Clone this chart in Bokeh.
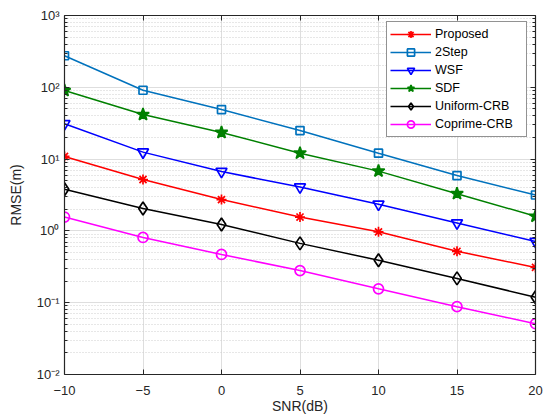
from bokeh.plotting import figure
from bokeh.models import (FixedTicker, CustomJSTickFormatter, LogAxis, LinearAxis,
                          Legend, LegendItem, Range1d)
from bokeh.embed import file_html
from bokeh.resources import INLINE

# ---- data ----
snr = [-10, -5, 0, 5, 10, 15, 20]
proposed = [10.9, 5.2, 2.73, 1.56, 0.97, 0.52, 0.31]
two_step = [275, 91, 49, 25, 12.1, 5.9, 3.16]
wsf = [31, 12.5, 6.7, 4.08, 2.35, 1.29, 0.71]
sdf = [90, 41.8, 23.5, 12.1, 6.8, 3.3, 1.6]
uniform_crb = [3.8, 2.05, 1.23, 0.67, 0.39, 0.218, 0.119]
coprime_crb = [1.56, 0.81, 0.47, 0.28, 0.156, 0.088, 0.051]

x_ticks = [-10, -5, 0, 5, 10, 15, 20]
y_ticks = [1e-2, 1e-1, 1e0, 1e1, 1e2, 1e3]
y_minor = [m * t for t in y_ticks[:-1] for m in range(2, 10)]

FONT = "Liberation Sans"
AX = "#262626"

p = figure(width=545, height=416, y_axis_type="log",
           x_range=Range1d(-10, 20), y_range=Range1d(1e-2, 1e3),
           output_backend="svg", toolbar_location=None,
           min_border_left=64, min_border_right=10, min_border_top=15, min_border_bottom=41,
           background_fill_color="white", border_fill_color="white")
p.outline_line_color = None

xt = FixedTicker(ticks=x_ticks)
yt = FixedTicker(ticks=y_ticks, minor_ticks=y_minor)

sup_code = """
const e = Math.round(Math.log10(tick));
const sup = {'-':'\\u207B','0':'\\u2070','1':'\\u00B9','2':'\\u00B2','3':'\\u00B3','4':'\\u2074','5':'\\u2075'};
return '10' + String(e).split('').map(c => sup[c]).join('');
"""

def style_axis(ax, show_labels):
    ax.axis_line_color = AX
    ax.axis_line_width = 1.2
    ax.major_tick_line_color = AX
    ax.minor_tick_line_color = AX
    ax.major_tick_in = 5
    ax.major_tick_out = 0
    ax.minor_tick_in = 3
    ax.minor_tick_out = 0
    ax.major_label_text_font = FONT
    ax.major_label_text_font_size = "13px"
    ax.major_label_text_color = AX
    ax.axis_label_text_font = FONT
    ax.axis_label_text_font_size = "14px"
    ax.axis_label_text_font_style = "normal"
    ax.axis_label_text_color = AX
    if not show_labels:
        ax.formatter = CustomJSTickFormatter(code="return ''")
        ax.major_label_standoff = 0

xa = p.xaxis[0]
xa.ticker = xt
style_axis(xa, True)
xa.minor_tick_in = 0
xa.axis_label = "SNR(dB)"
xa.major_label_standoff = 11
xa.axis_label_standoff = 0

ya = p.yaxis[0]
ya.ticker = yt
style_axis(ya, True)
ya.formatter = CustomJSTickFormatter(code=sup_code)
ya.axis_label = "RMSE(m)"
ya.major_label_standoff = 5
ya.axis_label_standoff = 10

top = LinearAxis(ticker=xt)
style_axis(top, False)
top.minor_tick_in = 0
p.add_layout(top, "above")

right = LogAxis(ticker=yt)
style_axis(right, False)
p.add_layout(right, "right")

p.xgrid.ticker = xt
p.xgrid.grid_line_color = "#dedede"
p.ygrid.grid_line_color = "#dedede"
p.ygrid.minor_grid_line_color = "#cfcfcf"
p.ygrid.minor_grid_line_dash = "1 2"

series = [
    ("Proposed", proposed, "#FF0000", "asterisk", 10, True),
    ("2Step", two_step, "#0072BD", "square", 8, False),
    ("WSF", wsf, "#0000FF", "inverted_triangle", 11, False),
    ("SDF", sdf, "#008000", "star", 13, True),
    ("Uniform-CRB", uniform_crb, "#000000", "diamond", 13, False),
    ("Coprime-CRB", coprime_crb, "#FF00FF", "circle", 10, False),
]

items = []
for name, ys, col, mk, sz, filled in series:
    r1 = p.line(snr, ys, line_color=col, line_width=1.5)
    r2 = p.scatter(snr, ys, marker=mk, size=sz, line_color=col, line_width=1.7,
                   fill_color=col if filled else None, fill_alpha=1 if filled else 0)
    items.append(LegendItem(label=name, renderers=[r1, r2]))

legend = Legend(items=items, location=(322, 237))
legend.label_text_font = FONT
legend.label_text_font_size = "12.5px"
legend.label_text_color = "#000000"
legend.glyph_width = 41
legend.glyph_height = 18
legend.label_height = 18
legend.label_width = 88
legend.label_standoff = 4
legend.spacing = 0
legend.padding = 3
legend.margin = 0
legend.border_line_color = AX
legend.border_line_width = 1
legend.background_fill_color = "white"
legend.background_fill_alpha = 1
p.add_layout(legend, "center")

open("out.html", "w").write(file_html(p, INLINE))
